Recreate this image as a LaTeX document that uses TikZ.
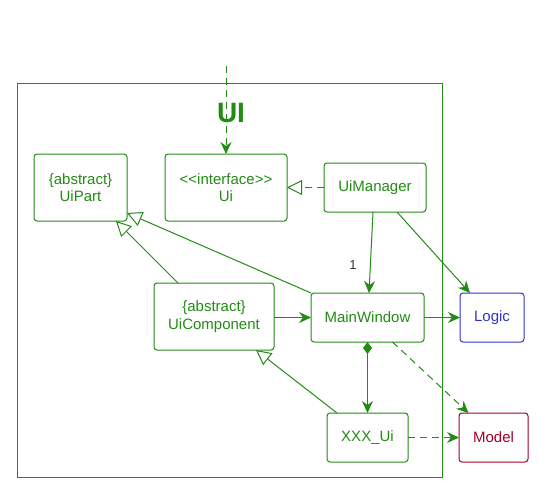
\documentclass[tikz,border=0pt]{standalone}
\usepackage{fontspec}
\setmainfont{Liberation Sans}
\usetikzlibrary{arrows.meta,calc}
\definecolor{ugreen}{RGB}{34,139,20}
\definecolor{ublue}{RGB}{51,51,204}
\definecolor{ured}{RGB}{162,0,37}
\definecolor{ugray}{RGB}{50,50,50}
\tikzset{
  cls/.style={draw=ugreen, text=ugreen, line width=1pt, rounded corners=3pt, rectangle,
    inner sep=0pt, outer sep=0pt, align=center, font=\fontsize{15}{17.5}\selectfont},
  conn/.style={draw=ugreen, line width=1pt},
  asc/.style={conn, -{Stealth[length=12pt,width=11pt,inset=4pt]}},
  dep/.style={asc, dash pattern=on 7pt off 5pt},
  inh/.style={conn, -{Triangle[open,length=15pt,width=15pt,fill=white]}},
  real/.style={inh, dash pattern=on 7pt off 5pt},
}
\begin{document}
\begin{tikzpicture}[x=1pt,y=-1pt]
\useasboundingbox (0,0) rectangle (539,488);
\node[draw=ugreen, line width=1pt, rectangle, inner sep=0pt, minimum width=425pt, minimum height=394pt] (pkg) at (229.5,280) {};
\node[text=ugreen, font=\fontsize{28}{30}\bfseries\selectfont] (lbl) at (231,113) {UI};
\node[cls, minimum width=93pt, minimum height=67pt] (uipart) at (80.5,187.5) {\{abstract\}\\UiPart};
\node[cls, minimum width=122pt, minimum height=67pt] (ui) at (226,187.5) {{<}{<}interface{>}{>}\\Ui};
\node[cls, minimum width=102pt, minimum height=49pt] (mgr) at (375,187.5) {UiManager};
\node[cls, minimum width=113pt, minimum height=49pt] (mw) at (367.5,317.5) {MainWindow};
\node[cls, draw=ublue, text=ublue, minimum width=64pt, minimum height=49pt] (logic) at (492,317.5) {Logic};
\node[cls, minimum width=120pt, minimum height=67pt] (uicomp) at (214,316.5) {\{abstract\}\\UiComponent};
\node[cls, minimum width=81pt, minimum height=49pt] (xxx) at (367.5,437.5) {XXX\_Ui};
\node[cls, draw=ured, text=ured, minimum width=69pt, minimum height=49pt] (model) at (493.5,437.5) {Model};
\coordinate (top) at (226,66);
\draw[dep] (top) -- (ui.north);
\draw[real] (mgr.west) -- (ui.east);
\draw[asc] ($(mgr.south)+(-2,0)$) -- node[pos=0.65, left=10pt, text=ugray, font=\fontsize{13}{15}\selectfont] (one) {1} ($(mw.north)+(1.5,0)$);
\draw[asc] ($(mgr.south)+(22,0)$) -- ($(logic.north)+(-22,0)$);
\draw[inh] (mw.north west) -- ($(uipart.south east)+(0,-8)$);
\draw[inh] ($(uicomp.north west)+(24,0)$) -- ($(uipart.south east)+(-11,0)$);
\draw[inh] ($(xxx.north west)+(10,0)$) -- ($(uicomp.south east)+(-18,0)$);
\draw[asc] (uicomp.east |- mw.west) -- (mw.west);
\draw[asc] (mw.east) -- (logic.west);
\draw[conn, {Diamond[length=12pt,width=9pt]}-{Stealth[length=12pt,width=11pt,inset=4pt]}] (mw.south) -- (xxx.north);
\draw[dep] ($(mw.south)+(25,0)$) -- ($(model.north)+(-25,0)$);
\draw[dep] (xxx.east) -- (model.west);
\end{tikzpicture}
\end{document}
